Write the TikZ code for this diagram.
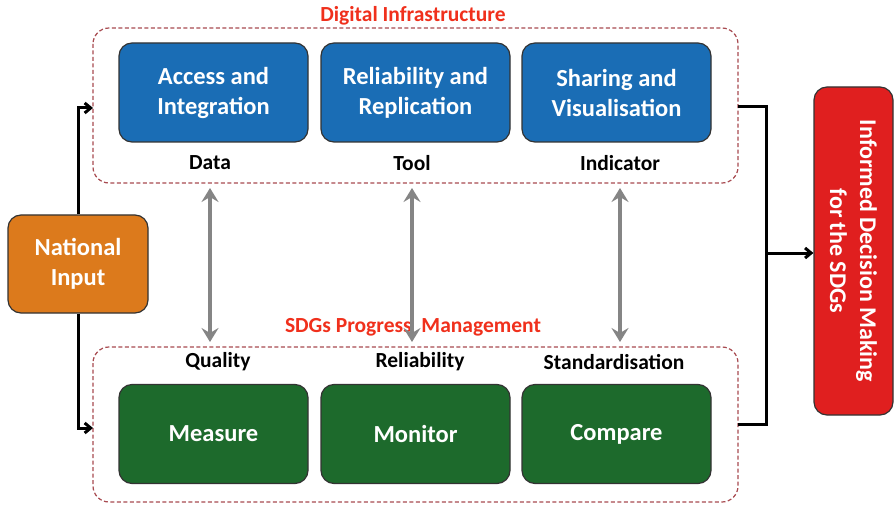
\documentclass[tikz,border=0pt]{standalone}
\usepackage{fontspec}
\setmainfont{Carlito}
\usetikzlibrary{arrows.meta,positioning,calc}
\definecolor{boxblue}{HTML}{1A6DB5}
\definecolor{boxgreen}{HTML}{1D6A2C}
\definecolor{boxorange}{HTML}{DC7A1C}
\definecolor{boxred}{HTML}{E01F1F}
\definecolor{dashred}{HTML}{A84A50}
\definecolor{titlered}{HTML}{F0301C}
\definecolor{arrgray}{HTML}{858585}
\begin{document}
\begin{tikzpicture}[x=1pt,y=-1pt,
  container/.style={draw=dashred,line width=1.2pt,dash pattern=on 4pt off 2.5pt,rounded corners=16pt},
  bluebox/.style={draw=black!80,line width=1.2pt,fill=boxblue,rounded corners=13pt,minimum width=189pt,minimum height=99pt,text=white,font=\bfseries\fontsize{24.5}{30}\selectfont,align=center},
  greenbox/.style={bluebox,fill=boxgreen},
  lbl/.style={font=\bfseries\fontsize{21.5}{24}\selectfont,text=black},
  ttl/.style={font=\bfseries\fontsize{21.5}{24}\selectfont,text=titlered},
  conn/.style={draw=black,line width=3pt},
  garrow/.style={draw=arrgray,line width=4pt,{Stealth[length=14pt,width=17pt,inset=5pt]}-{Stealth[length=14pt,width=17pt,inset=5pt]}}
]
\useasboundingbox (0,0) rectangle (895,508);
\fill[white] (0,0) rectangle (895,508);
% containers
\draw[container] (93,28) rectangle (738,183);
\draw[container] (93,347) rectangle (738,502);
\node[ttl] (ttlDI) at (413,16) {Digital Infrastructure};
\node[ttl] (ttlSP) at (413,327) {SDGs Progress \ Management};
% top boxes
\node[bluebox] (a1) at (213.5,92.5) {Access and\\Integration};
\node[bluebox] (a2) at (415.5,92.5) {Reliability and\\Replication};
\node[bluebox] (a3) at (616.5,92.5) {Sharing and\\Visualisation};
\node[lbl] (l1) at (210,163) {Data};
\node[lbl] (l2) at (412,163) {Tool};
\node[lbl] (l3) at (620,163) {Indicator};
% bottom boxes
\node[greenbox] (g1) at (213.5,434) {Measure};
\node[greenbox] (g2) at (415.5,434) {Monitor};
\node[greenbox] (g3) at (616.5,434) {Compare};
\node[lbl] (q1) at (218,362) {Quality};
\node[lbl] (q2) at (420,362) {Reliability};
\node[lbl] (q3) at (614,362) {Standardisation};
% national input
\node[draw=black!80,line width=1.2pt,fill=boxorange,rounded corners=13pt,minimum width=140pt,minimum height=98pt,text=white,font=\bfseries\fontsize{24.5}{30}\selectfont,align=center] (nat) at (78,264) {National\\Input};
% decision
\node[draw=black!80,line width=1.2pt,fill=boxred,rounded corners=13pt,minimum width=79pt,minimum height=328pt] (dec) at (853.5,251) {};
\node[rotate=-90,text=white,font=\bfseries\fontsize{24}{30}\selectfont,align=center] (dectxt) at (dec.center) {Informed Decision Making\\for the SDGs};
% coordinates
\coordinate (diL) at (93,108);
\coordinate (spL) at (93,428);
\coordinate (diR) at (738,107);
\coordinate (spR) at (738,424);
\coordinate (jT) at (766,107);
\coordinate (jB) at (766,424);
\coordinate (jM) at (766,253);
% black connectors
\draw[conn,-{Straight Barb[length=6pt,width=10pt]}] (nat.north) |- (diL);
\draw[conn,-{Straight Barb[length=6pt,width=10pt]}] (nat.south) |- (spL);
\draw[conn] (diR) -- (jT) -- (jB) -- (spR);
\draw[conn,-{Straight Barb[length=6pt,width=10pt]}] (jM) -- (dec.west |- jM);
% gray arrows
\draw[garrow] (210,188) -- (210,342);
\draw[garrow] (412,188) -- (412,342);
\draw[garrow] (620,188) -- (620,342);
\end{tikzpicture}
\end{document}
